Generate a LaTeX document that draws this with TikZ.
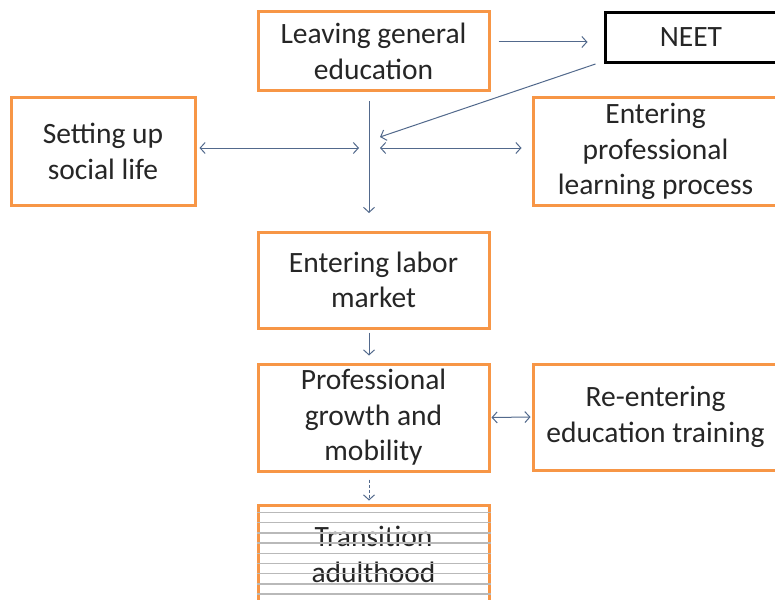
\documentclass[tikz,border=0pt]{standalone}
\usepackage{fontspec}
\setmainfont{Carlito}
\usetikzlibrary{arrows.meta}

\definecolor{boxorange}{HTML}{F79646}
\definecolor{linkblue}{HTML}{52698C}
\definecolor{txtgray}{HTML}{262626}

\begin{document}
\begin{tikzpicture}[
  x=1pt, y=-1pt,
  every node/.style={align=center, text=txtgray, inner sep=0pt,
    font=\fontsize{29.5}{35.5}\selectfont},
  stage/.style={draw=boxorange, line width=3pt, fill=white},
  neetbox/.style={draw=black, line width=3pt, fill=white},
  link/.style={draw=linkblue, line width=1pt,
    -{Straight Barb[length=5pt,width=11pt]}},
  twoway/.style={link,
    {Straight Barb[length=5pt,width=11pt]}-{Straight Barb[length=5pt,width=11pt]}},
  stripe/.style={draw=gray!55, line width=1.4pt}
]
\path[use as bounding box, fill=white] (0,0) rectangle (775,599);

% boxes
\node[stage, minimum width=231pt, minimum height=79pt] (leave) at (373.5,51.5) {Leaving general\\education};
\node[neetbox, minimum width=172pt, minimum height=50pt] (neet) at (691,37.5) {NEET};
\node[stage, minimum width=184pt, minimum height=107pt] (social) at (103,151.5) {Setting up\\social life};
\node[stage, minimum width=245pt, minimum height=107pt] (learning) at (655.5,151.5) {Entering\\professional\\learning process};
\node[stage, minimum width=231pt, minimum height=96pt] (labor) at (373.5,280) {Entering labor\\market};
\node[stage, minimum width=231pt, minimum height=107pt] (growth) at (373.5,417.5) {Professional\\growth and\\mobility};
\node[stage, minimum width=245pt, minimum height=106pt] (retrain) at (655.5,417) {Re-entering\\education training};
\node[stage, minimum width=231pt, minimum height=99pt] (adult) at (373.5,554.5) {Transition\\adulthood};

% ruled lines over the last box
\foreach \y in {512.5,522.7,...,595}
  \draw[stripe] (adult.west |- 0,\y) -- (adult.east |- 0,\y);

% junction points
\coordinate (hubend) at (369,213);
\coordinate (hubleft) at (359,148);
\coordinate (hubright) at (380,148);
\coordinate (intake) at (380,137);

% connectors
\draw[link, shorten <=8pt, shorten >=16pt] (leave.east |- 0,42) -- (neet.west |- 0,42);
\draw[link] ([xshift=-8pt]neet.south west) -- (intake);
\draw[link, shorten <=9pt] (leave.south -| hubend) -- (hubend);
\draw[twoway, shorten <=3pt] (social.east |- hubleft) -- (hubleft);
\draw[twoway, shorten >=10pt] (hubright) -- (learning.west |- hubright);
\draw[link, shorten <=3pt, shorten >=7pt] ([xshift=-4.5pt]labor.south) -- ([xshift=-4.5pt]growth.north);
\draw[twoway, shorten <=1pt, shorten >=1pt] (growth.east) -- (retrain.west);
\draw[link, dash pattern=on 3pt off 2pt, shorten <=7pt, shorten >=3pt] ([xshift=-4.5pt]growth.south) -- ([xshift=-4.5pt]adult.north);
\end{tikzpicture}
\end{document}
